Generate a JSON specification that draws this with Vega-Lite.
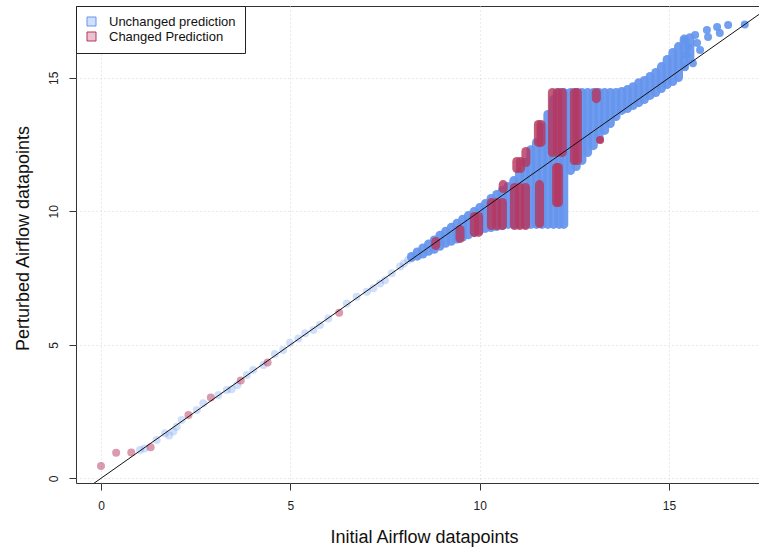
{
  "$schema": "https://vega.github.io/schema/vega-lite/v6.json",
  "width": 684,
  "height": 477,
  "autosize": {"type": "none"},
  "padding": {"left": 76, "top": 6, "right": 0, "bottom": 65},
  "background": "white",
  "config": {
    "font": "Liberation Sans",
    "view": {"stroke": "#333333", "strokeWidth": 1},
    "axis": {
      "grid": true, "gridColor": "#d6d6d6", "gridDash": [1, 3], "gridWidth": 1,
      "domain": false, "tickColor": "#333333", "tickSize": 7, "tickWidth": 1,
      "labelFont": "Liberation Sans", "labelFontSize": 12, "labelColor": "#222222",
      "labelFlush": false, "labelOverlap": false,
      "titleFont": "Liberation Sans", "titleFontSize": 18, "titleFontWeight": "normal", "titleColor": "#111111"
    }
  },
  "datasets": {
    "sparse": [
      {"x": 0.0, "y": 0.46, "group": "Changed Prediction"},
      {"x": 0.40, "y": 0.96, "group": "Changed Prediction"},
      {"x": 0.80, "y": 0.97, "group": "Changed Prediction"},
      {"x": 1.31, "y": 1.16, "group": "Changed Prediction"},
      {"x": 2.31, "y": 2.37, "group": "Changed Prediction"},
      {"x": 2.90, "y": 3.03, "group": "Changed Prediction"},
      {"x": 3.69, "y": 3.66, "group": "Changed Prediction"},
      {"x": 4.40, "y": 4.34, "group": "Changed Prediction"},
      {"x": 6.29, "y": 6.20, "group": "Changed Prediction"},
      {"x": 1.03, "y": 1.06, "group": "Unchanged prediction"},
      {"x": 1.15, "y": 1.12, "group": "Unchanged prediction"},
      {"x": 1.47, "y": 1.43, "group": "Unchanged prediction"},
      {"x": 1.69, "y": 1.69, "group": "Unchanged prediction"},
      {"x": 1.80, "y": 1.60, "group": "Unchanged prediction"},
      {"x": 1.91, "y": 1.75, "group": "Unchanged prediction"},
      {"x": 2.00, "y": 1.93, "group": "Unchanged prediction"},
      {"x": 2.13, "y": 2.18, "group": "Unchanged prediction"},
      {"x": 2.53, "y": 2.56, "group": "Unchanged prediction"},
      {"x": 2.70, "y": 2.81, "group": "Unchanged prediction"},
      {"x": 3.10, "y": 3.12, "group": "Unchanged prediction"},
      {"x": 3.32, "y": 3.31, "group": "Unchanged prediction"},
      {"x": 3.45, "y": 3.34, "group": "Unchanged prediction"},
      {"x": 3.60, "y": 3.49, "group": "Unchanged prediction"},
      {"x": 3.85, "y": 3.87, "group": "Unchanged prediction"},
      {"x": 4.02, "y": 4.06, "group": "Unchanged prediction"},
      {"x": 4.29, "y": 4.24, "group": "Unchanged prediction"},
      {"x": 4.59, "y": 4.66, "group": "Unchanged prediction"},
      {"x": 4.81, "y": 4.81, "group": "Unchanged prediction"},
      {"x": 4.99, "y": 5.08, "group": "Unchanged prediction"},
      {"x": 5.21, "y": 5.24, "group": "Unchanged prediction"},
      {"x": 5.39, "y": 5.43, "group": "Unchanged prediction"},
      {"x": 5.61, "y": 5.55, "group": "Unchanged prediction"},
      {"x": 5.78, "y": 5.74, "group": "Unchanged prediction"},
      {"x": 6.00, "y": 5.99, "group": "Unchanged prediction"},
      {"x": 6.49, "y": 6.55, "group": "Unchanged prediction"},
      {"x": 6.75, "y": 6.80, "group": "Unchanged prediction"},
      {"x": 7.02, "y": 6.99, "group": "Unchanged prediction"},
      {"x": 7.19, "y": 7.12, "group": "Unchanged prediction"},
      {"x": 7.37, "y": 7.30, "group": "Unchanged prediction"},
      {"x": 7.50, "y": 7.42, "group": "Unchanged prediction"},
      {"x": 7.68, "y": 7.68, "group": "Unchanged prediction"},
      {"x": 7.90, "y": 7.93, "group": "Unchanged prediction"},
      {"x": 8.00, "y": 8.05, "group": "Unchanged prediction"},
      {"x": 8.11, "y": 8.18, "group": "Unchanged prediction"}
    ],
    "cols": [
      {"x": 8.20, "y": 8.27, "y2": 8.31, "group": "Unchanged prediction"},
      {"x": 8.35, "y": 8.32, "y2": 8.48, "group": "Unchanged prediction"},
      {"x": 8.50, "y": 8.40, "y2": 8.63, "group": "Unchanged prediction"},
      {"x": 8.65, "y": 8.50, "y2": 8.78, "group": "Unchanged prediction"},
      {"x": 8.80, "y": 8.58, "y2": 8.93, "group": "Unchanged prediction"},
      {"x": 8.95, "y": 8.69, "y2": 9.10, "group": "Unchanged prediction"},
      {"x": 9.10, "y": 8.80, "y2": 9.25, "group": "Unchanged prediction"},
      {"x": 9.25, "y": 8.88, "y2": 9.40, "group": "Unchanged prediction"},
      {"x": 9.40, "y": 8.96, "y2": 9.55, "group": "Unchanged prediction"},
      {"x": 9.55, "y": 9.04, "y2": 9.70, "group": "Unchanged prediction"},
      {"x": 9.70, "y": 9.12, "y2": 9.84, "group": "Unchanged prediction"},
      {"x": 9.85, "y": 9.20, "y2": 9.99, "group": "Unchanged prediction"},
      {"x": 10.00, "y": 9.28, "y2": 10.14, "group": "Unchanged prediction"},
      {"x": 10.15, "y": 9.36, "y2": 10.29, "group": "Unchanged prediction"},
      {"x": 10.30, "y": 9.39, "y2": 10.48, "group": "Unchanged prediction"},
      {"x": 10.45, "y": 9.43, "y2": 10.63, "group": "Unchanged prediction"},
      {"x": 10.60, "y": 9.47, "y2": 10.78, "group": "Unchanged prediction"},
      {"x": 10.75, "y": 9.51, "y2": 10.93, "group": "Unchanged prediction"},
      {"x": 10.90, "y": 9.51, "y2": 11.15, "group": "Unchanged prediction"},
      {"x": 11.05, "y": 9.51, "y2": 11.45, "group": "Unchanged prediction"},
      {"x": 11.20, "y": 9.51, "y2": 11.83, "group": "Unchanged prediction"},
      {"x": 11.35, "y": 9.51, "y2": 12.31, "group": "Unchanged prediction"},
      {"x": 11.50, "y": 9.51, "y2": 12.58, "group": "Unchanged prediction"},
      {"x": 11.65, "y": 9.51, "y2": 13.14, "group": "Unchanged prediction"},
      {"x": 11.80, "y": 9.51, "y2": 13.63, "group": "Unchanged prediction"},
      {"x": 11.95, "y": 9.51, "y2": 14.19, "group": "Unchanged prediction"},
      {"x": 12.10, "y": 9.51, "y2": 14.45, "group": "Unchanged prediction"},
      {"x": 12.22, "y": 9.51, "y2": 14.45, "group": "Unchanged prediction"},
      {"x": 12.40, "y": 11.53, "y2": 14.45, "group": "Unchanged prediction"},
      {"x": 12.55, "y": 11.68, "y2": 14.45, "group": "Unchanged prediction"},
      {"x": 12.70, "y": 11.90, "y2": 14.45, "group": "Unchanged prediction"},
      {"x": 12.85, "y": 12.20, "y2": 14.45, "group": "Unchanged prediction"},
      {"x": 13.00, "y": 12.46, "y2": 14.45, "group": "Unchanged prediction"},
      {"x": 13.15, "y": 12.73, "y2": 14.45, "group": "Unchanged prediction"},
      {"x": 13.30, "y": 13.03, "y2": 14.45, "group": "Unchanged prediction"},
      {"x": 13.45, "y": 13.29, "y2": 14.45, "group": "Unchanged prediction"},
      {"x": 13.60, "y": 13.55, "y2": 14.45, "group": "Unchanged prediction"},
      {"x": 13.75, "y": 13.78, "y2": 14.49, "group": "Unchanged prediction"},
      {"x": 13.90, "y": 13.85, "y2": 14.56, "group": "Unchanged prediction"},
      {"x": 14.05, "y": 13.96, "y2": 14.67, "group": "Unchanged prediction"},
      {"x": 14.20, "y": 14.07, "y2": 14.82, "group": "Unchanged prediction"},
      {"x": 14.35, "y": 14.19, "y2": 14.90, "group": "Unchanged prediction"},
      {"x": 14.50, "y": 14.34, "y2": 15.05, "group": "Unchanged prediction"},
      {"x": 14.65, "y": 14.45, "y2": 15.20, "group": "Unchanged prediction"},
      {"x": 14.80, "y": 14.60, "y2": 15.42, "group": "Unchanged prediction"},
      {"x": 14.95, "y": 14.75, "y2": 15.69, "group": "Unchanged prediction"},
      {"x": 15.10, "y": 14.86, "y2": 15.95, "group": "Unchanged prediction"},
      {"x": 15.25, "y": 15.01, "y2": 16.17, "group": "Unchanged prediction"},
      {"x": 15.40, "y": 15.45, "y2": 16.45, "group": "Unchanged prediction"},
      {"x": 15.55, "y": 15.70, "y2": 16.50, "group": "Unchanged prediction"},
      {"x": 8.84, "y": 8.72, "y2": 8.87, "group": "Changed Prediction"},
      {"x": 9.48, "y": 8.98, "y2": 9.32, "group": "Changed Prediction"},
      {"x": 9.86, "y": 9.21, "y2": 9.81, "group": "Changed Prediction"},
      {"x": 9.97, "y": 9.21, "y2": 9.81, "group": "Changed Prediction"},
      {"x": 10.31, "y": 9.47, "y2": 10.33, "group": "Changed Prediction"},
      {"x": 10.45, "y": 9.47, "y2": 10.33, "group": "Changed Prediction"},
      {"x": 10.60, "y": 9.47, "y2": 10.33, "group": "Changed Prediction"},
      {"x": 10.62, "y": 10.85, "y2": 11.00, "group": "Changed Prediction"},
      {"x": 10.92, "y": 9.47, "y2": 10.89, "group": "Changed Prediction"},
      {"x": 11.06, "y": 9.47, "y2": 10.89, "group": "Changed Prediction"},
      {"x": 11.21, "y": 9.47, "y2": 10.89, "group": "Changed Prediction"},
      {"x": 10.98, "y": 11.60, "y2": 11.87, "group": "Changed Prediction"},
      {"x": 11.08, "y": 11.60, "y2": 11.87, "group": "Changed Prediction"},
      {"x": 11.22, "y": 11.83, "y2": 12.24, "group": "Changed Prediction"},
      {"x": 11.55, "y": 12.58, "y2": 13.25, "group": "Changed Prediction"},
      {"x": 11.62, "y": 12.58, "y2": 13.25, "group": "Changed Prediction"},
      {"x": 11.58, "y": 9.54, "y2": 11.00, "group": "Changed Prediction"},
      {"x": 11.92, "y": 12.20, "y2": 14.45, "group": "Changed Prediction"},
      {"x": 12.05, "y": 12.20, "y2": 14.45, "group": "Changed Prediction"},
      {"x": 12.18, "y": 12.20, "y2": 14.45, "group": "Changed Prediction"},
      {"x": 12.03, "y": 10.33, "y2": 11.64, "group": "Changed Prediction"},
      {"x": 12.08, "y": 10.33, "y2": 11.64, "group": "Changed Prediction"},
      {"x": 12.50, "y": 11.90, "y2": 14.45, "group": "Changed Prediction"},
      {"x": 12.58, "y": 11.90, "y2": 14.45, "group": "Changed Prediction"},
      {"x": 13.08, "y": 14.22, "y2": 14.45, "group": "Changed Prediction"}
    ],
    "dense": [
      {"x": 13.18, "y": 12.67, "group": "Changed Prediction"},
      {"x": 15.42, "y": 16.41, "group": "Unchanged prediction"},
      {"x": 15.50, "y": 16.15, "group": "Unchanged prediction"},
      {"x": 15.47, "y": 15.85, "group": "Unchanged prediction"},
      {"x": 15.69, "y": 16.60, "group": "Unchanged prediction"},
      {"x": 15.74, "y": 16.30, "group": "Unchanged prediction"},
      {"x": 15.63, "y": 15.55, "group": "Unchanged prediction"},
      {"x": 15.42, "y": 15.40, "group": "Unchanged prediction"},
      {"x": 15.82, "y": 16.04, "group": "Unchanged prediction"},
      {"x": 16.00, "y": 16.79, "group": "Unchanged prediction"},
      {"x": 16.03, "y": 16.53, "group": "Unchanged prediction"},
      {"x": 16.27, "y": 16.90, "group": "Unchanged prediction"},
      {"x": 16.34, "y": 16.68, "group": "Unchanged prediction"},
      {"x": 16.56, "y": 16.98, "group": "Unchanged prediction"},
      {"x": 17.00, "y": 17.00, "group": "Unchanged prediction"}
    ],
    "diag": [
      {"x": -1, "y": -1},
      {"x": 18, "y": 18}
    ]
  },
  "encoding": {
    "x": {
      "field": "x", "type": "quantitative",
      "scale": {"domain": [-0.66, 17.402], "nice": false, "zero": false},
      "axis": {"values": [0, 5, 10, 15], "labelPadding": 10, "title": "Initial Airflow datapoints",
               "titleX": 348, "titleY": 59, "titleAlign": "center", "titleBaseline": "alphabetic"}
    },
    "y": {
      "field": "y", "type": "quantitative",
      "scale": {"domain": [-0.176, 17.69], "nice": false, "zero": false},
      "axis": {"values": [0, 5, 10, 15], "labelAngle": 270, "labelAlign": "center", "labelBaseline": "alphabetic",
               "labelPadding": 12, "title": "Perturbed Airflow datapoints", "titleAngle": 270,
               "titleX": -48, "titleY": 232, "titleAlign": "center", "titleBaseline": "alphabetic"}
    },
    "color": {
      "field": "group", "type": "nominal",
      "scale": {"domain": ["Unchanged prediction", "Changed Prediction"], "range": ["#6495ed", "#b5375f"]},
      "legend": {
        "title": null, "orient": "top-left", "offset": 0, "padding": 9,
        "strokeColor": "#222222", "fillColor": "white", "cornerRadius": 0,
        "symbolType": "square", "symbolSize": 81, "symbolStrokeWidth": 1, "symbolStrokeColor": "#333333",
        "symbolOpacity": 1,
        "labelFont": "Liberation Sans", "labelFontSize": 13, "labelColor": "#111111",
        "labelOffset": 11, "rowPadding": 1,
        "encode": {"symbols": {
          "enter": {"fillOpacity": {"value": 0.3}, "opacity": {"value": 1}, "stroke": {"value": "#333333"}, "strokeOpacity": {"value": 1}, "strokeWidth": {"value": 1}},
          "update": {"fillOpacity": {"value": 0.3}, "opacity": {"value": 1}, "stroke": {"value": "#333333"}, "strokeOpacity": {"value": 1}, "strokeWidth": {"value": 1}}
        }}
      }
    }
  },
  "layer": [
    {"data": {"name": "sparse"}, "transform": [{"filter": "datum.group === 'Unchanged prediction'"}],
     "mark": {"type": "circle", "size": 64, "opacity": 0.3}},
    {"data": {"name": "sparse"}, "transform": [{"filter": "datum.group === 'Changed Prediction'"}],
     "mark": {"type": "circle", "size": 64, "opacity": 0.5}},
    {"data": {"name": "cols"}, "transform": [{"filter": "datum.group === 'Unchanged prediction'"}],
     "mark": {"type": "rule", "strokeWidth": 9, "strokeCap": "round", "opacity": 0.93},
     "encoding": {"y2": {"field": "y2"}}},
    {"data": {"name": "cols"}, "transform": [{"filter": "datum.group === 'Changed Prediction'"}],
     "mark": {"type": "rule", "strokeWidth": 9, "strokeCap": "round", "opacity": 0.82},
     "encoding": {"y2": {"field": "y2"}}},
    {"data": {"name": "dense"}, "mark": {"type": "circle", "size": 64, "opacity": 0.9}},
    {"data": {"name": "diag"}, "mark": {"type": "line", "strokeWidth": 1, "clip": true},
     "encoding": {"color": {"value": "#111111"}}}
  ]
}
